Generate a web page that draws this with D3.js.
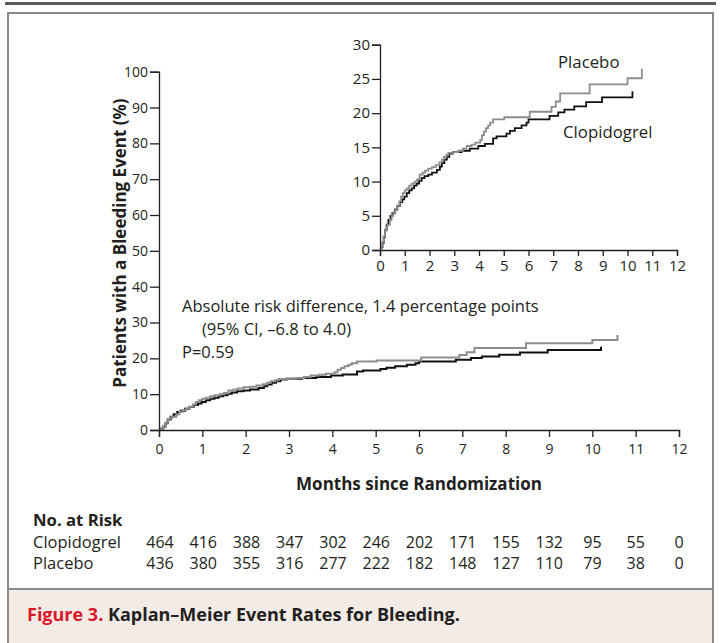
<!DOCTYPE html>
<html>
<head>
<meta charset="utf-8">
<script src="https://cdn.jsdelivr.net/npm/d3@7"></script>
<style>
  body { margin: 0; background: #fff; }
  svg { display: block; font-family: "Open Sans", "Noto Sans", sans-serif; }
</style>
</head>
<body>
<svg id="chart" width="721" height="643"></svg>
<script>
// Kaplan–Meier cumulative bleeding event rates (%), step knots: month, percent
const placeboMonths = [0, 0.05, 0.1, 0.15, 0.2, 0.25, 0.3, 0.4, 0.47, 0.54, 0.62, 0.7, 0.78, 0.85, 0.92, 1.0,
  1.08, 1.18, 1.28, 1.4, 1.5, 1.6, 1.72, 1.82, 1.95, 2.1, 2.25, 2.4, 2.5, 2.58, 2.68, 2.76, 2.95, 3.16,
  3.35, 3.5, 3.7, 3.85, 4.05, 4.12, 4.2, 4.28, 4.37, 4.45, 4.57, 5.02, 6.05, 6.93, 7.1, 7.28, 8.47, 10.0, 10.58];
const placeboPct = [0, 0.5, 1.2, 2.0, 2.8, 3.4, 3.7, 4.4, 5.0, 5.5, 6.0, 6.5, 7.1, 7.8, 8.3, 8.7,
  9.0, 9.4, 9.7, 10.0, 10.3, 11.0, 11.3, 11.6, 11.9, 12.1, 12.4, 12.8, 13.2, 13.6, 13.9, 14.2, 14.3, 14.5,
  14.8, 15.2, 15.4, 15.7, 16.1, 16.8, 17.3, 17.8, 18.2, 18.6, 19.1, 19.4, 20.2, 20.9, 21.7, 22.9, 24.2, 25.1, 26.5];

const clopidogrelMonths = [0, 0.05, 0.1, 0.15, 0.2, 0.27, 0.34, 0.42, 0.5, 0.6, 0.7, 0.8, 0.9, 0.98, 1.08,
  1.18, 1.28, 1.38, 1.48, 1.58, 1.68, 1.8, 1.95, 2.1, 2.3, 2.42, 2.5, 2.6, 2.7, 2.8, 2.95, 3.3, 3.63, 3.97,
  4.24, 4.57, 4.71, 5.11, 5.25, 5.45, 5.72, 5.92, 6.0, 6.85, 7.2, 7.45, 7.85, 8.33, 8.97, 10.2];
const clopidogrelPct = [0, 0.4, 1.0, 1.9, 2.9, 3.7, 4.4, 5.0, 5.4, 5.9, 6.4, 7.0, 7.4, 7.8, 8.3,
  8.7, 9.0, 9.4, 9.7, 10.1, 10.5, 10.8, 11.0, 11.3, 11.7, 12.2, 12.7, 13.2, 13.6, 14.1, 14.3, 14.5, 14.8, 15.2,
  15.5, 16.3, 16.6, 17.0, 17.4, 17.8, 18.2, 18.6, 19.1, 19.6, 20.1, 20.5, 21.0, 21.6, 22.3, 23.2];

// Axis ticks
const monthTicks = [0, 1, 2, 3, 4, 5, 6, 7, 8, 9, 10, 11, 12];
const mainPctTicks = [0, 10, 20, 30, 40, 50, 60, 70, 80, 90, 100];
const insetPctTicks = [0, 5, 10, 15, 20, 25, 30];

// Number at risk at each month
const riskLabels = ["Clopidogrel", "Placebo"];
const riskClopidogrel = [464, 416, 388, 347, 302, 246, 202, 171, 155, 132, 95, 55, 0];
const riskPlacebo = [436, 380, 355, 316, 277, 222, 182, 148, 127, 110, 79, 38, 0];

const seriesNames = ["Placebo", "Clopidogrel"];
const annotationLines = ["Absolute risk difference, 1.4 percentage points", "(95% CI, \u20136.8 to 4.0)", "P=0.59"];

const svg = d3.select("#chart");
const INK = "#231f20";
const GREY_CURVE = "#8d8d8d";
const FONT = "'Open Sans', 'Noto Sans', sans-serif";

// ---- frame ----
svg.append("rect").attr("x", 5).attr("y", 2).attr("width", 711).attr("height", 3).attr("fill", "#5a5a5a");
svg.append("rect").attr("x", 8).attr("y", 589).attr("width", 705).attr("height", 60)
  .attr("fill", "#f3ebe6");
svg.append("rect").attr("x", 8).attr("y", 13).attr("width", 705).attr("height", 640)
  .attr("fill", "none").attr("stroke", "#8a8a8a").attr("stroke-width", 2);
svg.append("line").attr("x1", 8).attr("x2", 713).attr("y1", 589).attr("y2", 589)
  .attr("stroke", "#8a8a8a").attr("stroke-width", 2);

const toPoints = (xs, ys) => xs.map((m, i) => [m, ys[i]]);
const placeboPts = toPoints(placeboMonths, placeboPct);
const clopidogrelPts = toPoints(clopidogrelMonths, clopidogrelPct);

function styleAxis(g, fontSize) {
  g.select(".domain").attr("stroke", INK).attr("stroke-width", 1.3);
  g.selectAll(".tick line").attr("stroke", INK).attr("stroke-width", 1.3);
  g.selectAll(".tick text").attr("fill", INK).style("font-size", fontSize + "px").style("font-family", FONT);
}

function drawPanel(opts) {
  const x = d3.scaleLinear().domain([0, 12]).range([opts.x0, opts.x1]);
  const y = d3.scaleLinear().domain([0, opts.yMax]).range([opts.y0, opts.y1]);

  const line = d3.line().x(d => x(d[0])).y(d => y(d[1])).curve(d3.curveStepAfter);
  svg.append("path").datum(clopidogrelPts).attr("d", line)
    .attr("fill", "none").attr("stroke", "#111").attr("stroke-width", opts.lw);
  svg.append("path").datum(placeboPts).attr("d", line)
    .attr("fill", "none").attr("stroke", GREY_CURVE).attr("stroke-width", opts.lw);

  const gx = svg.append("g").attr("transform", `translate(0,${opts.y0})`)
    .call(d3.axisBottom(x).tickValues(monthTicks).tickFormat(d3.format("d"))
      .tickSize(opts.xTick).tickSizeOuter(opts.xTick).tickPadding(opts.xPad));
  styleAxis(gx, opts.fs);

  const gy = svg.append("g").attr("transform", `translate(${opts.x0},0)`)
    .call(d3.axisLeft(y).tickValues(opts.yTicks).tickFormat(d3.format("d"))
      .tickSize(opts.yTick).tickSizeOuter(opts.yTick).tickPadding(opts.yPad));
  styleAxis(gy, opts.fs);
  return { x, y };
}

// ---- main panel ----
drawPanel({ x0: 159, x1: 679, y0: 430, y1: 71.7, yMax: 100, yTicks: mainPctTicks,
  lw: 2, fs: 14, xTick: 7, xPad: 7, yTick: 9, yPad: 2 });

// ---- inset panel ----
drawPanel({ x0: 380, x1: 677, y0: 250, y1: 44.7, yMax: 30, yTicks: insetPctTicks,
  lw: 1.8, fs: 15, xTick: 6, xPad: 4, yTick: 8, yPad: 2 });

// series labels in the inset
svg.append("text").attr("x", 558).attr("y", 68).attr("fill", INK).style("font-size", "16.8px").text(seriesNames[0]);
svg.append("text").attr("x", 563).attr("y", 138).attr("fill", INK).style("font-size", "16.8px").text(seriesNames[1]);

// ---- annotation ----
const ann = svg.append("g").attr("fill", INK).style("font-size", "16.5px");
ann.append("text").attr("x", 182).attr("y", 312).text(annotationLines[0]);
ann.append("text").attr("x", 202).attr("y", 335).text(annotationLines[1]);
ann.append("text").attr("x", 182).attr("y", 358).text(annotationLines[2]);

// ---- axis titles ----
svg.append("text").attr("x", 419).attr("y", 490).attr("text-anchor", "middle")
  .attr("fill", INK).style("font-size", "17px").style("font-weight", 700)
  .text("Months since Randomization");
svg.append("text").attr("transform", "translate(126,243) rotate(-90)").attr("text-anchor", "middle")
  .attr("fill", INK).style("font-size", "17px").style("font-weight", 700)
  .text("Patients with a Bleeding Event (%)");

// ---- number at risk ----
const xRisk = d3.scaleLinear().domain([0, 12]).range([160, 679]);
svg.append("text").attr("x", 33).attr("y", 526).attr("fill", INK)
  .style("font-size", "16.7px").style("font-weight", 700).text("No. at Risk");
[riskClopidogrel, riskPlacebo].forEach((row, r) => {
  const yy = 548 + r * 21;
  svg.append("text").attr("x", 33).attr("y", yy).attr("fill", INK).style("font-size", "16.5px").text(riskLabels[r]);
  svg.append("g").selectAll("text").data(row).join("text")
    .attr("x", (d, i) => xRisk(monthTicks[i])).attr("y", yy)
    .attr("text-anchor", "middle").attr("fill", INK).style("font-size", "16px")
    .text(d => d);
});

// ---- caption ----
const cap = svg.append("text").attr("x", 27).attr("y", 621).style("font-size", "18px").style("font-weight", 700);
cap.append("tspan").attr("fill", "#d7182a").text("Figure 3.");
cap.append("tspan").attr("fill", INK).text(" Kaplan\u2013Meier Event Rates for Bleeding.");
</script>
</body>
</html>
